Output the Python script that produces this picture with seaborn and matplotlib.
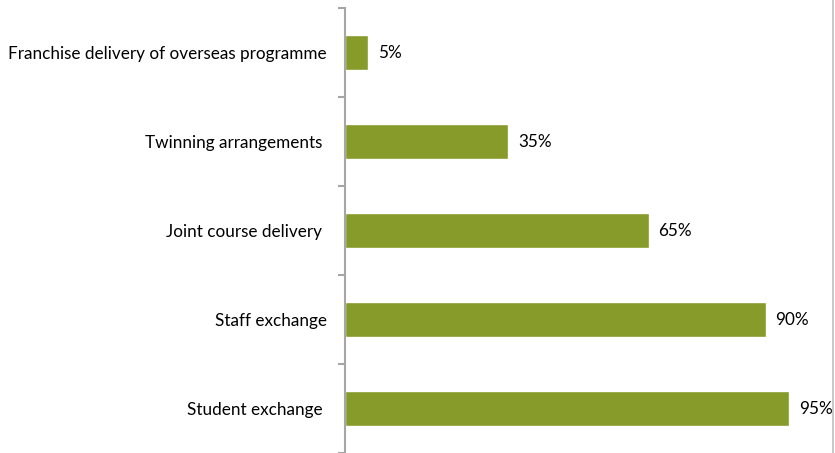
import numpy as np
import pandas as pd
import matplotlib
matplotlib.use("Agg")
import matplotlib.pyplot as plt
import seaborn as sns
from matplotlib.lines import Line2D

# data
categories = [
    "Franchise delivery of overseas programme",
    "Twinning arrangements ",
    "Joint course delivery ",
    "Staff exchange",
    "Student exchange ",
]
values = [5, 35, 65, 90, 95]

df = pd.DataFrame({"category": categories, "value": values})

sns.set_style("white")
plt.rcParams["font.family"] = ["Lato", "DejaVu Sans"]

fig = plt.figure(figsize=(8.35, 4.53), dpi=100)
ax = fig.add_axes([0.4127, 0.0, 0.5605, 0.982])

sns.barplot(data=df, x="value", y="category", orient="h",
            color="#869B29", saturation=1, width=0.4, ax=ax)

ax.set_xlim(0, 100)
ax.set_ylim(len(categories) - 0.5, -0.5)

for c in ax.containers:
    ax.bar_label(c, labels=[f"{v}%" for v in values], padding=7,
                 fontsize=12.3, color="#000000")

# axis styling
for s in ["top", "right", "bottom"]:
    ax.spines[s].set_visible(False)
ax.spines["left"].set_color("#A6A6A6")
ax.spines["left"].set_linewidth(1.5)
ax.xaxis.set_visible(False)
ax.set_xlabel("")
ax.set_ylabel("")

ax.set_yticks(np.arange(len(categories) + 1) - 0.5, minor=True)
ax.tick_params(axis="y", which="major", length=0, pad=13, labelsize=12.3,
               labelcolor="#000000")
ax.tick_params(axis="y", which="minor", length=5, width=1.5,
               color="#A6A6A6", direction="out", left=True)

# chart border on the right
fig.add_artist(Line2D([0.998, 0.998], [0, 1], transform=fig.transFigure,
                      color="#BFBFBF", linewidth=1.2))

fig.savefig("out.png", dpi=100)
